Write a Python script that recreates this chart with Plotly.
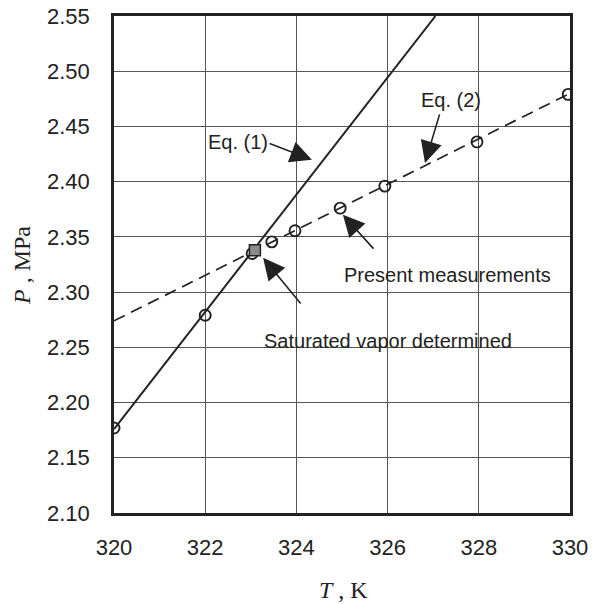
import plotly.graph_objects as go

# Measured points
meas_T = [320.0, 322.0, 323.03, 323.46, 323.97, 324.96, 325.94, 327.96, 329.96]
meas_P = [2.177, 2.279, 2.335, 2.3455, 2.3555, 2.376, 2.396, 2.436, 2.479]

# Saturated vapor determined
sat_T = [323.09]
sat_P = [2.338]

# Eq. (1) and Eq. (2) lines
eq1_T = [320.0, 323.05, 327.05]
eq1_P = [2.176, 2.338, 2.55]
eq2_T = [320.0, 330.0]
eq2_P = [2.274, 2.480]

x_ticks = [320, 322, 324, 326, 328, 330]
y_ticks = [2.10, 2.15, 2.20, 2.25, 2.30, 2.35, 2.40, 2.45, 2.50, 2.55]

INK = "#222222"
L, R, T, B = 114, 22, 16, 91
FW, FH = 592, 604
W, H = FW - L - R, FH - T - B

fig = go.Figure()
fig.add_trace(go.Scatter(x=eq2_T, y=eq2_P, mode="lines",
                         line=dict(color=INK, width=1.7, dash="12px,7px"),
                         showlegend=False, hoverinfo="skip"))
fig.add_trace(go.Scatter(x=eq1_T, y=eq1_P, mode="lines",
                         line=dict(color=INK, width=2),
                         showlegend=False, hoverinfo="skip"))
fig.add_trace(go.Scatter(x=meas_T, y=meas_P, mode="markers",
                         marker=dict(symbol="circle-open", size=11, color=INK,
                                     line=dict(width=1.9, color=INK)),
                         showlegend=False))
fig.add_trace(go.Scatter(x=sat_T, y=sat_P, mode="markers",
                         marker=dict(symbol="square", size=11, color="#8a8a8a",
                                     line=dict(width=1.5, color=INK)),
                         showlegend=False))

txt_font = dict(family="Liberation Sans, Arial, sans-serif", size=20, color=INK)

# labels (text only)
labels = [
    ("Eq. (1)", 322.72, 2.436),
    ("Eq. (2)", 327.39, 2.474),
    ("Present measurements", 327.32, 2.3156),
    ("Saturated vapor determined", 326.0, 2.2558),
]
for t, x, y in labels:
    fig.add_annotation(x=x, y=y, text=t, showarrow=False, font=txt_font,
                       xanchor="center", yanchor="middle")

# arrows: (tip_x, tip_y, tail_x, tail_y)
arrows = [
    (324.34, 2.4198, 323.38, 2.435),
    (326.82, 2.417, 327.15, 2.4623),
    (325.02, 2.370, 325.72, 2.338),
    (323.27, 2.331, 324.12, 2.2884),
]
for x, y, ax, ay in arrows:
    fig.add_annotation(x=x, y=y, ax=ax, ay=ay, xref="x", yref="y",
                       axref="x", ayref="y", text="", showarrow=True,
                       arrowhead=2, arrowsize=2.7, arrowwidth=1.6,
                       arrowcolor=INK, standoff=0, startstandoff=0)

tick_font = dict(family="Liberation Sans, Arial, sans-serif", size=22, color=INK)
title_font = dict(family="Liberation Serif, Times New Roman, serif", size=24, color=INK)

# axis titles as paper annotations (pixel targets converted to paper coords)
fig.add_annotation(x=(343 - L) / W, y=-(590 - (FH - B)) / H,
                   xref="paper", yref="paper", text="<i>T</i> , K",
                   showarrow=False, font=title_font,
                   xanchor="center", yanchor="middle")
fig.add_annotation(x=(22 - L) / W, y=((FH - B) - 266) / H,
                   xref="paper", yref="paper", text="<i>P</i> , MPa",
                   showarrow=False, font=title_font, textangle=-90,
                   xanchor="center", yanchor="middle")

fig.update_xaxes(range=[320, 330], tickvals=x_ticks,
                 ticktext=[str(v) for v in x_ticks],
                 showgrid=True, gridcolor="#555555", gridwidth=1,
                 showline=True, linecolor=INK, linewidth=2.5, mirror=True,
                 zeroline=False, ticks="", ticklabelstandoff=13,
                 tickfont=tick_font, automargin=False)
fig.update_yaxes(range=[2.10, 2.55], tickvals=y_ticks,
                 ticktext=["%.2f" % v for v in y_ticks],
                 showgrid=True, gridcolor="#555555", gridwidth=1,
                 showline=True, linecolor=INK, linewidth=2.5, mirror=True,
                 zeroline=False, ticks="", ticklabelstandoff=17,
                 tickfont=tick_font, automargin=False)

fig.update_layout(width=FW, height=FH,
                  margin=dict(l=L, r=R, t=T, b=B),
                  paper_bgcolor="white", plot_bgcolor="white")

fig.write_html("out.html")
